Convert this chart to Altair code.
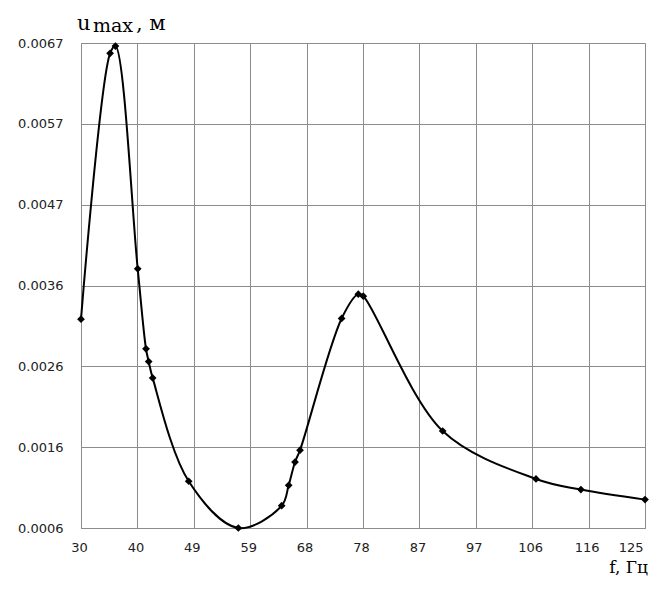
import altair as alt
import pandas as pd

freq = [30.0, 34.9, 35.8, 39.55, 40.95, 41.4, 42.07, 48.14, 56.5, 63.8,
        64.98, 66.05, 66.89, 73.9, 76.71, 77.55, 90.92, 106.64, 114.2, 125.0]
u_max = [0.003227, 0.00657, 0.006662, 0.00386, 0.002853, 0.002694, 0.002488,
         0.001188, 0.0006, 0.00088, 0.001137, 0.00143, 0.001578, 0.003235,
         0.003541, 0.003516, 0.00182, 0.001217, 0.001083, 0.000957]

x_ticks = [30, 39.5, 49, 58.5, 68, 77.5, 87, 96.5, 106, 115.5, 125]
x_tick_labels = ["30", "40", "49", "59", "68", "78", "87", "97", "106", "116", "125"]
y_ticks = [0.0006, 0.00161667, 0.00263333, 0.00365, 0.00466667, 0.00568333, 0.0067]
y_tick_labels = ["0.0006", "0.0016", "0.0026", "0.0036", "0.0047", "0.0057", "0.0067"]

df = pd.DataFrame({"f": freq, "u": u_max})

grid_col = "#8c8c8c"
x_expr = "[" + ",".join("'%s'" % s for s in x_tick_labels) + "][round((datum.value-30)/9.5)]"
y_expr = "[" + ",".join("'%s'" % s for s in y_tick_labels) + "][round((datum.value-0.0006)/0.0061*6)]"

x_enc = alt.X("f:Q", scale=alt.Scale(domain=[30, 125], nice=False, zero=False),
              axis=alt.Axis(values=x_ticks, labelExpr=x_expr, title=None, grid=True,
                            gridColor=grid_col, domainColor=grid_col, ticks=False,
                            labelPadding=13, labelFont="DejaVu Sans", labelFontSize=13,
                            labelColor="#222222", labelOffset=-2,
                            labelAlign={"condition": {"test": "datum.value >= 125", "value": "right"},
                                        "value": "center"}))
y_enc = alt.Y("u:Q", scale=alt.Scale(domain=[0.0006, 0.0067], nice=False, zero=False),
              axis=alt.Axis(values=y_ticks, labelExpr=y_expr, title=None, grid=True,
                            gridColor=grid_col, domainColor=grid_col, ticks=False,
                            labelPadding=18, labelFont="DejaVu Sans", labelFontSize=13,
                            labelColor="#222222"))

line = alt.Chart(df).mark_line(color="black", strokeWidth=2,
                               interpolate="catmull-rom").encode(x=x_enc, y=y_enc)
pts = alt.Chart(df).mark_point(shape="diamond", filled=True, color="black",
                               size=60, opacity=1).encode(x="f:Q", y="u:Q")

def label(txt, x, y, size, align="left"):
    return alt.Chart(pd.DataFrame({"t": [txt]})).mark_text(
        font="DejaVu Serif", fontSize=size, color="black", align=align,
        baseline="alphabetic").encode(x=alt.value(x), y=alt.value(y), text="t:N")

t_u = label("u", -4, -13, 21)
t_max = label("max", 12, -11, 19)
t_m = label(", м", 55, -13, 21)
t_f = label("f, Гц", 567, 530, 17, align="right")

chart = alt.layer(line, pts, t_u, t_max, t_m, t_f).properties(
    width=564, height=485,
    autosize=alt.AutoSizeParams(type="none"),
    padding={"left": 73, "top": 35, "right": 4, "bottom": 48},
).configure_view(stroke=None).configure(background="white")

chart.save("out.html", embed_options={"renderer": "svg", "actions": False})
